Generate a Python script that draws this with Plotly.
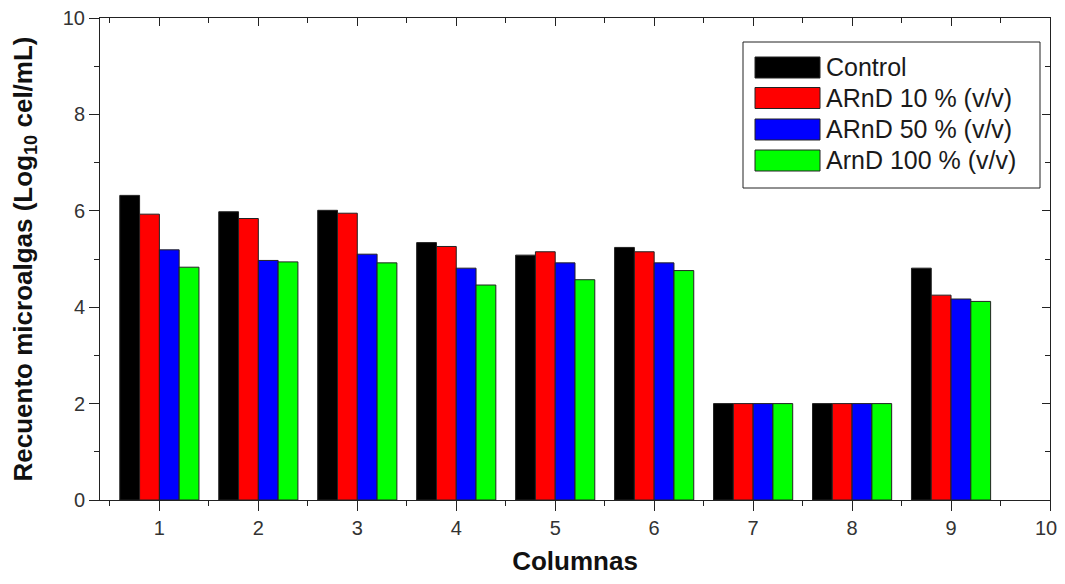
import plotly.graph_objects as go

categories = [1, 2, 3, 4, 5, 6, 7, 8, 9]
series_names = ["Control", "ARnD 10 % (v/v)", "ARnD 50 % (v/v)", "ArnD 100 % (v/v)"]
control = [6.32, 5.98, 6.01, 5.34, 5.08, 5.24, 2.0, 2.0, 4.81]
arnd10 = [5.93, 5.84, 5.95, 5.26, 5.15, 5.15, 2.0, 2.0, 4.25]
arnd50 = [5.19, 4.97, 5.10, 4.81, 4.92, 4.92, 2.0, 2.0, 4.17]
arnd100 = [4.83, 4.94, 4.92, 4.46, 4.57, 4.76, 2.0, 2.0, 4.12]
colors = ["#000000", "#ff0000", "#0000ff", "#00ff00"]
x_ticks = [1, 2, 3, 4, 5, 6, 7, 8, 9, 10]
y_ticks = [0, 2, 4, 6, 8, 10]

series = [control, arnd10, arnd50, arnd100]

fig = go.Figure()
for name, vals, col in zip(series_names, series, colors):
    fig.add_trace(go.Bar(
        x=categories, y=vals, name=name,
        marker=dict(color=col, line=dict(color="#222222", width=1)),
        showlegend=False,
    ))
# empty traces so the helper axes get drawn
fig.add_trace(go.Scatter(x=[], y=[], xaxis="x2", yaxis="y2", showlegend=False, hoverinfo="skip"))
fig.add_trace(go.Scatter(x=[], y=[], xaxis="x3", yaxis="y", showlegend=False, hoverinfo="skip"))

font_family = "Liberation Sans, Arial, sans-serif"
axc = "#222222"

# last x tick label sits at the window edge: draw it on a helper axis nudged left
main_ticktext = [str(v) for v in x_ticks[:-1]] + [""]
edge_tickval = [x_ticks[-1]]
edge_ticktext = [str(x_ticks[-1])]

fig.update_layout(
    width=1049, height=568,
    margin=dict(l=92, r=7, t=10, b=76),
    paper_bgcolor="white", plot_bgcolor="white",
    barmode="group", bargap=0.2, bargroupgap=0,
    font=dict(family=font_family, color="#222222", size=20),
    xaxis=dict(
        range=[0.4, 10], tickmode="array", tickvals=x_ticks,
        ticktext=main_ticktext,
        ticks="outside", ticklen=10, tickwidth=1, tickcolor=axc,
        showline=True, linecolor=axc, linewidth=1, mirror=False,
        showgrid=False, zeroline=False, automargin=False,
        ticklabeloverflow="allow",
        minor=dict(dtick=0.5, tick0=0.5, ticks="outside", ticklen=5, tickcolor=axc, showgrid=False),
        tickfont=dict(size=20, color="#333"),
        title=dict(text="<b>Columnas</b>", font=dict(size=26, color="#111"), standoff=25),
    ),
    xaxis3=dict(
        overlaying="x", side="bottom", anchor="y", range=[0.4, 10],
        tickmode="array", tickvals=edge_tickval, ticktext=edge_ticktext,
        ticks="outside", ticklen=10, tickcolor="rgba(0,0,0,0)",
        ticklabelshift=-4, ticklabeloverflow="allow",
        showline=False, showgrid=False, zeroline=False, automargin=False,
        tickfont=dict(size=20, color="#333"),
    ),
    yaxis=dict(
        range=[0, 10], tickmode="array", tickvals=y_ticks,
        ticks="outside", ticklen=10, tickwidth=1, tickcolor=axc,
        showline=True, linecolor=axc, linewidth=1, mirror=False,
        showgrid=False, zeroline=False, automargin=False,
        ticklabeloverflow="allow",
        minor=dict(dtick=1, tick0=0, ticks="outside", ticklen=5, tickcolor=axc, showgrid=False),
        tickfont=dict(size=20, color="#333"),
        title=dict(text="<b>Recuento microalgas (Log<sub>10</sub> cel/mL)</b>", font=dict(size=26, color="#111"), standoff=24),
    ),
    xaxis2=dict(
        overlaying="x", side="top", anchor="y2", range=[0.4, 10],
        tickmode="array", tickvals=x_ticks, showticklabels=False,
        ticks="inside", ticklen=8, tickwidth=1, tickcolor=axc,
        showline=True, linecolor=axc, linewidth=1,
        showgrid=False, zeroline=False, automargin=False,
        minor=dict(dtick=0.5, tick0=0.5, ticks="inside", ticklen=5, tickcolor=axc, showgrid=False),
    ),
    yaxis2=dict(
        overlaying="y", side="right", anchor="x2", range=[0, 10],
        tickmode="array", tickvals=y_ticks, showticklabels=False,
        ticks="inside", ticklen=8, tickwidth=1, tickcolor=axc,
        showline=True, linecolor=axc, linewidth=1,
        showgrid=False, zeroline=False, automargin=False,
        minor=dict(dtick=1, tick0=0, ticks="inside", ticklen=5, tickcolor=axc, showgrid=False),
    ),
)

# Custom legend box, positioned in screen pixels of the plot frame
plot_l, plot_r, plot_t, plot_b = 100, 1050, 18, 500
pw, ph = plot_r - plot_l, plot_b - plot_t
def px(x):
    return (x - plot_l) / pw
def py(y):
    return (plot_b - y) / ph

fig.add_shape(type="rect", xref="paper", yref="paper",
              x0=px(743), x1=px(1040), y0=py(188), y1=py(42),
              line=dict(color=axc, width=1), fillcolor="white", layer="above")
row_y = [67.5, 98, 129.5, 160.5]
for name, col, yc in zip(series_names, colors, row_y):
    fig.add_shape(type="rect", xref="paper", yref="paper",
                  x0=px(755), x1=px(820), y0=py(yc + 10.5), y1=py(yc - 10.5),
                  line=dict(color=axc, width=1), fillcolor=col, layer="above")
    fig.add_annotation(xref="paper", yref="paper", x=px(824), y=py(yc),
                       text=name, showarrow=False, xanchor="left", yanchor="middle",
                       font=dict(size=25, color="#1a1a1a", family=font_family))

fig.write_html("out.html")
